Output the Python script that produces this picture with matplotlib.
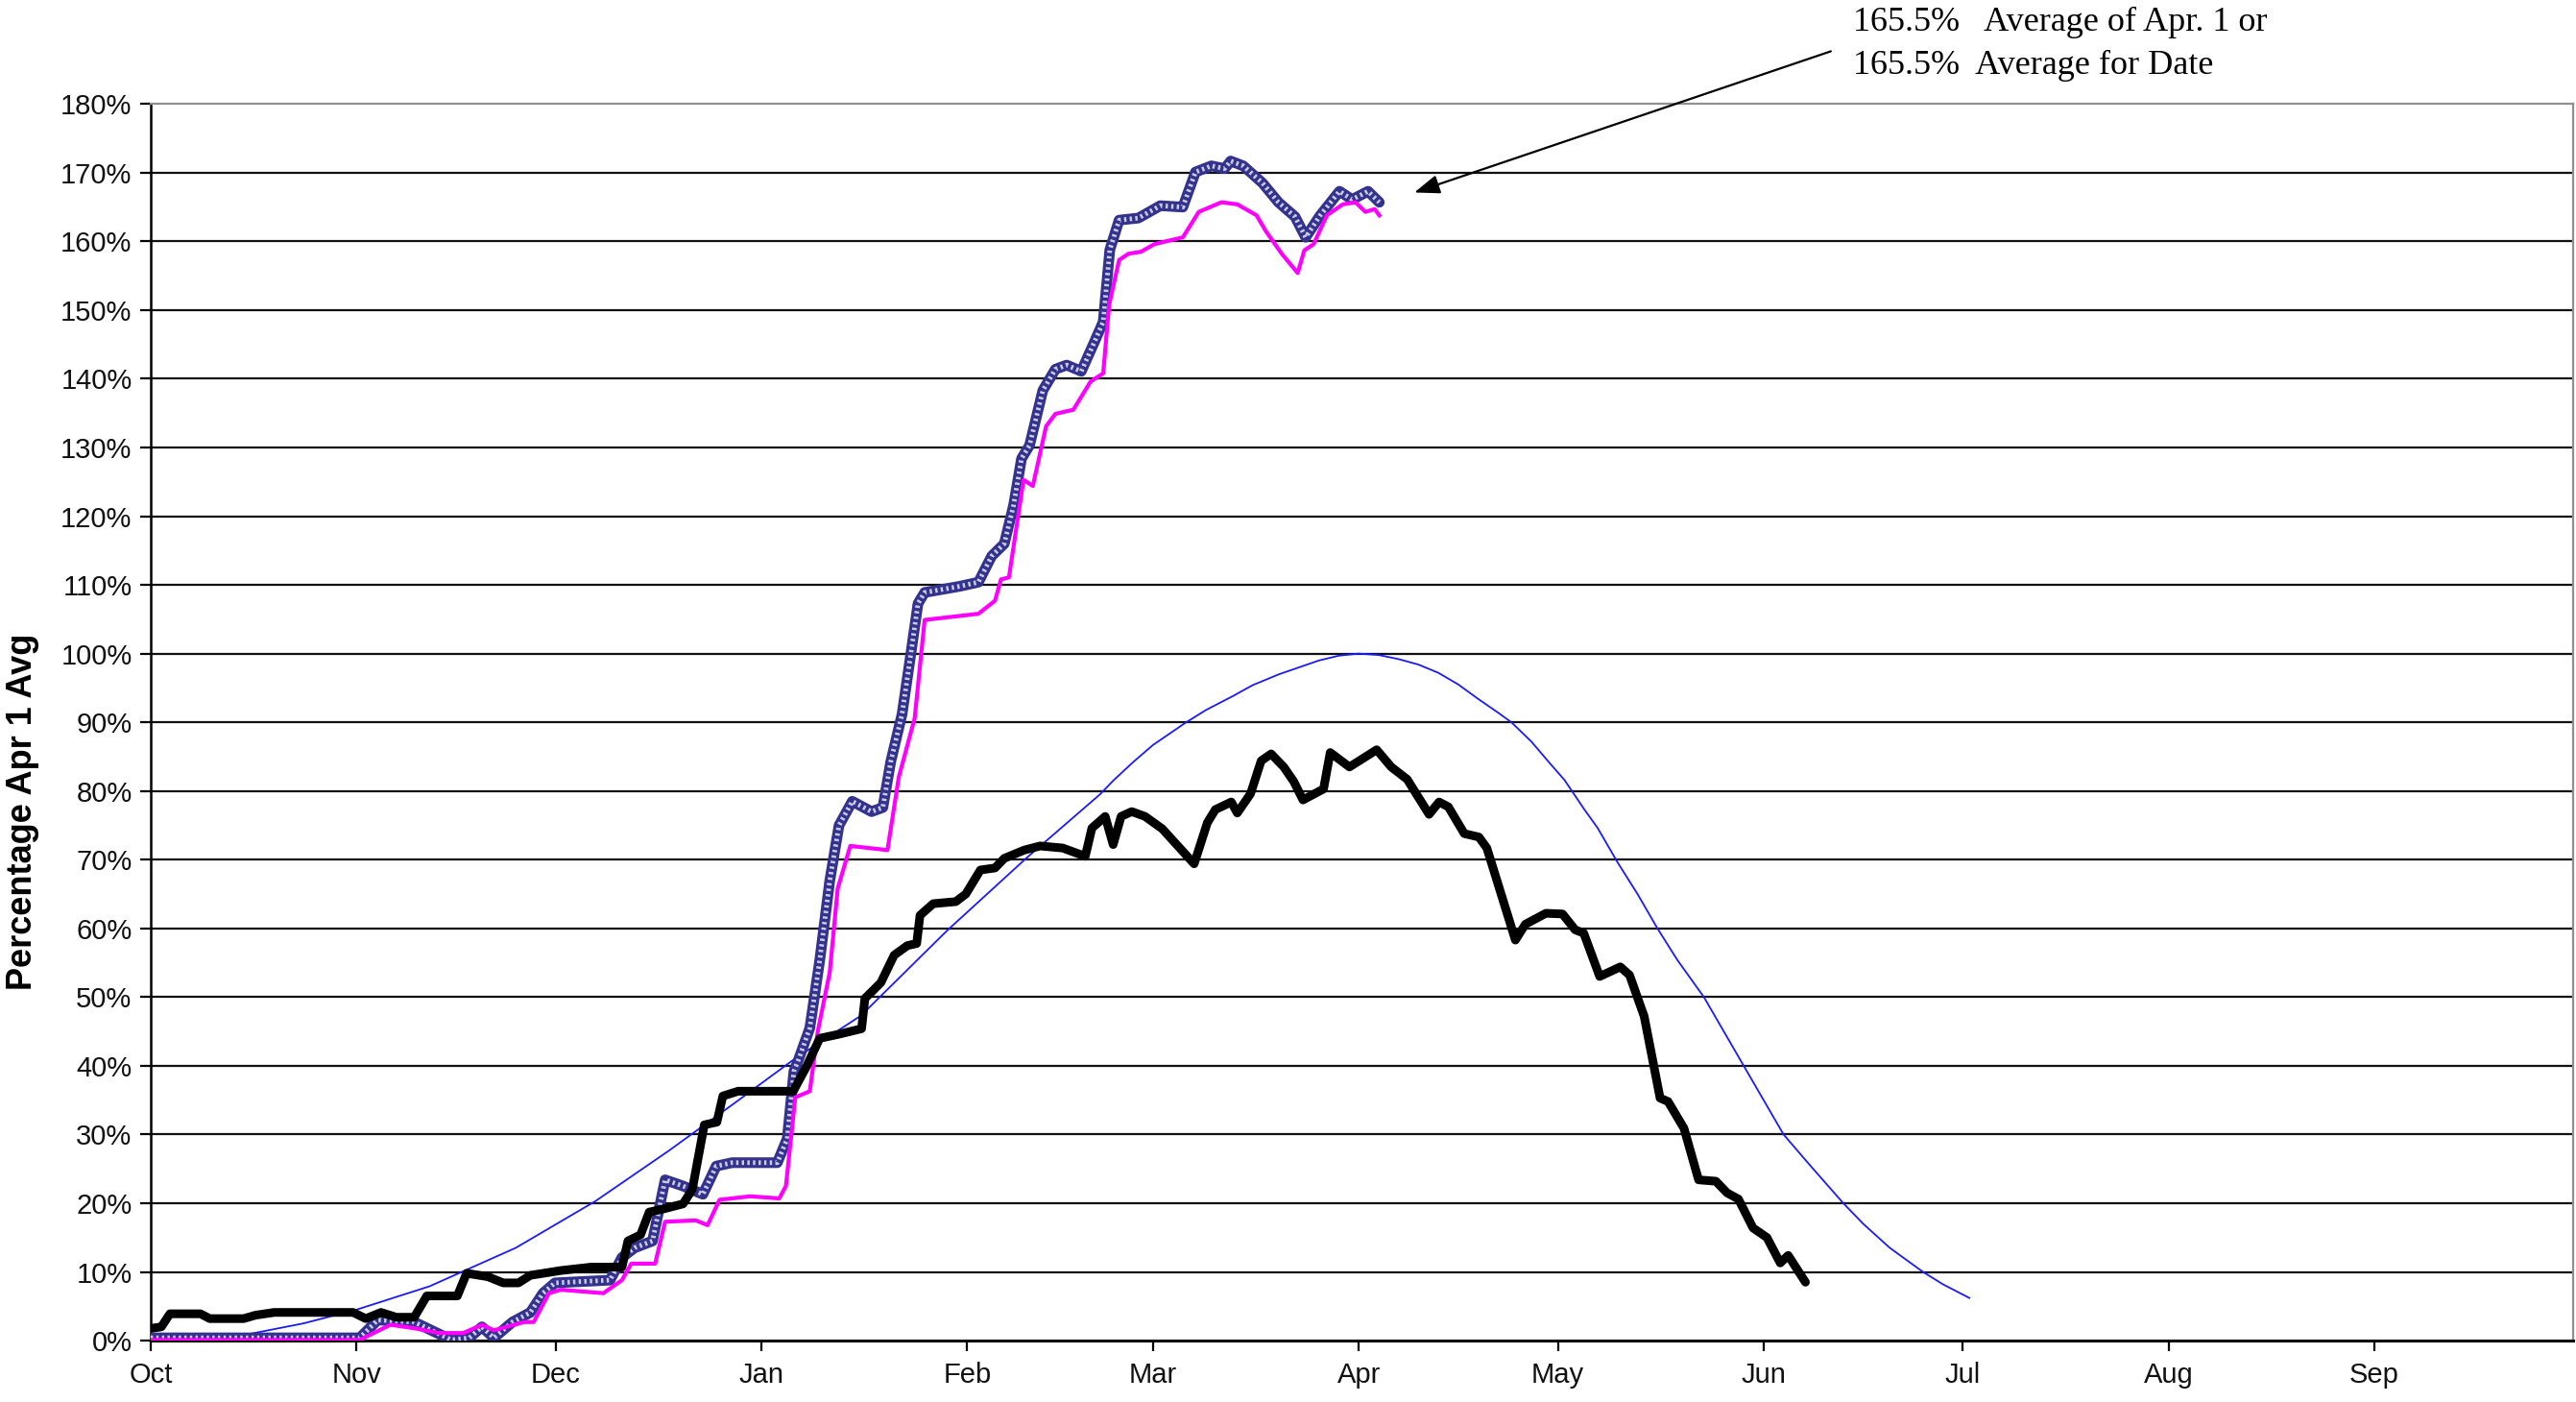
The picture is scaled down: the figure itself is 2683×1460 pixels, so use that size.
"""Snowpack percentage of Apr 1 average - water year chart."""
import matplotlib
matplotlib.use("Agg")
import matplotlib.pyplot as plt
from matplotlib.ticker import FixedLocator, FuncFormatter

# day of water year (Oct 1 = 0)
MONTH_DAYS = [0, 31, 61, 92, 123, 151, 182, 212, 243, 273, 304, 335]
MONTH_LABELS = ["Oct", "Nov", "Dec", "Jan", "Feb", "Mar", "Apr",
                "May", "Jun", "Jul", "Aug", "Sep"]

avg_day = [0, 14, 23, 31, 42, 55, 67, 78, 88, 97, 107, 120, 132, 143, 145,
           148, 151, 156, 159, 163, 166, 170, 173, 176, 179, 182, 185, 188,
           191, 194, 197, 200, 203, 205, 208, 211, 213, 216, 218, 221, 224,
           227, 230, 234, 237, 240, 243, 246, 250, 255, 258, 262, 267, 270, 274]
avg_pct = [0, 0.8, 2.5, 4.5, 7.9, 13.5, 20.3, 27.6, 34.6, 41.0, 47.3, 59.7,
           70.3, 79.5, 81.5, 84.2, 86.7, 90.0, 91.8, 93.8, 95.4, 97.0, 98.0,
           99.0, 99.7, 100.0, 99.8, 99.2, 98.4, 97.2, 95.5, 93.4, 91.4, 90.0,
           87.2, 83.8, 81.6, 77.3, 74.6, 69.6, 65.0, 60.0, 55.4, 50.0, 45.0,
           40.0, 35.0, 30.0, 25.5, 20.0, 17.0, 13.5, 10.0, 8.2, 6.2]

black_day = [0.2, 1.6, 2.9, 7.5, 8.9, 14, 15.8, 18.6, 30.5, 32.4, 34.7, 37,
             39.7, 41.6, 46.2, 47.6, 50.8, 53.1, 55.4, 57.2, 61.8, 66.4, 71,
             71.9, 73.8, 75.1, 77.4, 80.2, 81.6, 83.4, 85.3, 86.2, 88.5, 96.8,
             98.8, 100.8, 103.7, 107.1, 107.6, 110, 112, 114, 115.4, 115.9,
             117.9, 121.3, 122.8, 125, 127.2, 128.6, 131.6, 134, 137.4, 140.8,
             141.8, 143.8, 145, 146.2, 147.8, 149.8, 152.4, 157.2, 159.2,
             160.4, 162.8, 163.7, 165.7, 167.3, 168.8, 170.7, 172.2, 173.6,
             176.7, 177.7, 180.6, 184.7, 186.9, 189.3, 192.6, 194.1, 195.5,
             197.9, 200.1, 201.3, 205.6, 207.1, 210.2, 212.7, 214.6, 215.9,
             218.3, 221.4, 222.8, 225, 227.4, 228.6, 231, 233.2, 235.8, 237.5,
             239.2, 241.4, 243.5, 245.5, 246.7, 249.3]
black_pct = [1.8, 2.0, 3.9, 3.9, 3.2, 3.2, 3.7, 4.1, 4.1, 3.2, 4.1, 3.4,
             3.4, 6.5, 6.5, 9.8, 9.3, 8.4, 8.4, 9.5, 10.2, 10.7, 10.7,
             14.5, 15.4, 18.7, 19.2, 19.9, 22.0, 31.4, 31.8, 35.6, 36.3, 36.3,
             39.9, 44.0, 44.6, 45.4, 49.8, 52.1, 56.1, 57.5, 57.8, 61.9,
             63.6, 63.9, 65.0, 68.5, 68.8, 70.2, 71.4, 72.0, 71.7, 70.5,
             74.6, 76.3, 72.2, 76.3, 77.0, 76.3, 74.5, 69.4, 75.4,
             77.3, 78.4, 76.8, 79.6, 84.4, 85.4, 83.5, 81.4, 78.7,
             80.3, 85.6, 83.5, 86.0, 83.5, 81.7, 76.6, 78.4, 77.7,
             73.8, 73.3, 71.7, 58.3, 60.6, 62.2, 62.1, 59.8, 59.3,
             53.0, 54.4, 53.2, 47.2, 35.3, 34.8, 30.9, 23.4, 23.2, 21.5,
             20.6, 16.4, 15.0, 11.3, 12.4, 8.5]

navy_day = [0, 31.5, 34.2, 39.7, 45.3, 48, 49.9, 51.7, 54.5, 57.2, 59.1,
            60.9, 69.2, 71, 72.9, 75.6, 77.5, 80.2, 83.2, 85.2, 87.6, 94.4,
            95.9, 96.9, 97.6, 99.3, 100.8, 102.3, 103.7, 105.7, 108.6, 110.3,
            111.5, 113.2, 114.6, 115.6, 116.6, 121.9, 124.7, 126.7, 128.6,
            130, 131.2, 132.4, 134.4, 136.3, 138, 140.2, 142.1, 143.5, 144.5,
            145.9, 148.8, 152.1, 155.5, 157.4, 159.8, 161.8, 162.7, 164.6,
            167.5, 169.9, 172.4, 174, 176.2, 179.1, 181, 183.4, 185.1]
navy_pct = [0.4, 0.4, 3.0, 2.7, 0.1, 0.4, 2.0, 0.4, 2.7, 4.1, 6.9,
            8.4, 8.8, 12.1, 13.5, 14.5, 23.4, 22.5, 21.3, 25.4, 25.9, 25.9,
            29.4, 39.2, 40.9, 45.5, 55.4, 66.9, 75.0, 78.5, 77.0, 77.6,
            84.3, 91.2, 100.5, 107.3, 108.9, 109.8, 110.4, 114.2, 116.0,
            121.6, 128.4, 130.3, 138.3, 141.4, 142.0, 141.1, 145.2, 148.3, 158.8,
            163.1, 163.4, 165.2, 165.0, 170.1, 171.0, 170.6, 171.7, 171.0,
            168.5, 165.7, 163.6, 160.6, 163.8, 167.3, 166.1, 167.3, 165.7]

pink_day = [0, 31.5, 36.1, 39.7, 43.4, 47.1, 49.9, 51.7, 56.3, 57.7, 60,
            61.8, 68.2, 71, 72.4, 76, 77.5, 82.1, 83.9, 85.7, 90.3, 94.7,
            95.7, 97.1, 99.3, 100.5, 102.3, 103.5, 105.4, 111, 112.7, 115.1,
            116.6, 124.7, 127.2, 128.1, 129.3, 131.5, 132.9, 134.9, 136.3, 139,
            141.6, 143.5, 144.4, 145.9, 147.3, 149.2, 151.2, 155.5, 157.9,
            161.3, 163.7, 166.6, 168, 170.4, 172.8, 173.8, 175.2, 177.2,
            179.6, 181.5, 183, 184.4, 185.1]
pink_pct = [0.1, 0.1, 2.3, 1.8, 1.1, 1.1, 2.3, 1.5, 2.7, 2.7, 6.9,
            7.4, 6.9, 8.8, 11.2, 11.2, 17.3, 17.5, 16.8, 20.5, 21.0, 20.7,
            22.5, 35.4, 36.3, 45.0, 53.6, 65.8, 72.0, 71.4, 82.0, 90.6,
            104.9, 105.8, 107.7, 110.8, 111.1, 125.3, 124.4, 133.1, 134.9, 135.5,
            139.6, 140.8, 150.8, 157.3, 158.2, 158.5, 159.6, 160.6, 164.3,
            165.7, 165.4, 163.8, 161.5, 158.2, 155.4, 158.7, 159.6, 163.8,
            165.4, 165.7, 164.3, 164.7, 163.8]

ANNOT_LINES = ["165.5%   Average of Apr. 1 or", "165.5%  Average for Date"]


def plot() -> None:
    fig = plt.figure(figsize=(26.83, 14.60), dpi=100)
    ax = fig.add_axes([0.0585, 0.0438, 0.9405, 0.882])

    for y in range(10, 180, 10):
        ax.axhline(y, color="#111111", lw=1.6, zorder=1)

    ax.plot(avg_day, avg_pct, color="#1a1aff", lw=1.3, zorder=2)
    # patterned series: navy base with white dots on top
    ax.plot(navy_day, navy_pct, color="#33338f", lw=8, zorder=3,
            solid_joinstyle="round", solid_capstyle="round")
    ax.plot(navy_day, navy_pct, color="white", lw=3.5, zorder=3.5,
            linestyle=(0, (0.5, 0.7)), alpha=0.75)
    ax.plot(pink_day, pink_pct, color="#ff00ff", lw=3, zorder=4)
    ax.plot(black_day, black_pct, color="black", lw=6.5, zorder=5,
            solid_joinstyle="round", solid_capstyle="round")

    ax.set_xlim(0, 365)
    ax.set_ylim(0, 180)
    ax.xaxis.set_major_locator(FixedLocator(MONTH_DAYS))
    ax.set_xticklabels(MONTH_LABELS)
    ax.yaxis.set_major_locator(FixedLocator(list(range(0, 190, 10))))
    ax.yaxis.set_major_formatter(FuncFormatter(lambda v, p: f"{v:.0f}%"))
    ax.tick_params(axis="both", labelsize=21, direction="out", length=8,
                   width=1.6, color="black")
    ax.tick_params(axis="y", pad=6)
    ax.tick_params(axis="x", pad=8)
    for lab in ax.get_xticklabels() + ax.get_yticklabels():
        lab.set_fontfamily("Liberation Sans")
        lab.set_color("#111111")

    ax.spines["left"].set_color("black")
    ax.spines["left"].set_linewidth(1.8)
    ax.spines["bottom"].set_color("black")
    ax.spines["bottom"].set_linewidth(2.2)
    ax.spines["top"].set_color("#909090")
    ax.spines["top"].set_linewidth(1.6)
    ax.spines["right"].set_color("#909090")
    ax.spines["right"].set_linewidth(1.6)

    ax.set_ylabel("Percentage Apr 1 Avg", fontsize=26, fontweight="bold",
                  family="Liberation Sans")
    ax.yaxis.set_label_coords(-0.046, 0.428)

    ax.annotate("", xy=(190, 167), xytext=(253.5, 187.8),
                xycoords="data", textcoords="data", annotation_clip=False,
                arrowprops=dict(arrowstyle="-|>,head_length=1.6,head_width=0.6",
                                color="black", lw=1.6))
    fig.text(0.7195, 0.984, ANNOT_LINES[0], fontsize=26,
             family="Liberation Serif", va="center", ha="left")
    fig.text(0.7195, 0.953, ANNOT_LINES[1], fontsize=26,
             family="Liberation Serif", va="center", ha="left")

    fig.savefig("out.png", dpi=100)
    plt.close(fig)


if __name__ == "__main__":
    plot()
